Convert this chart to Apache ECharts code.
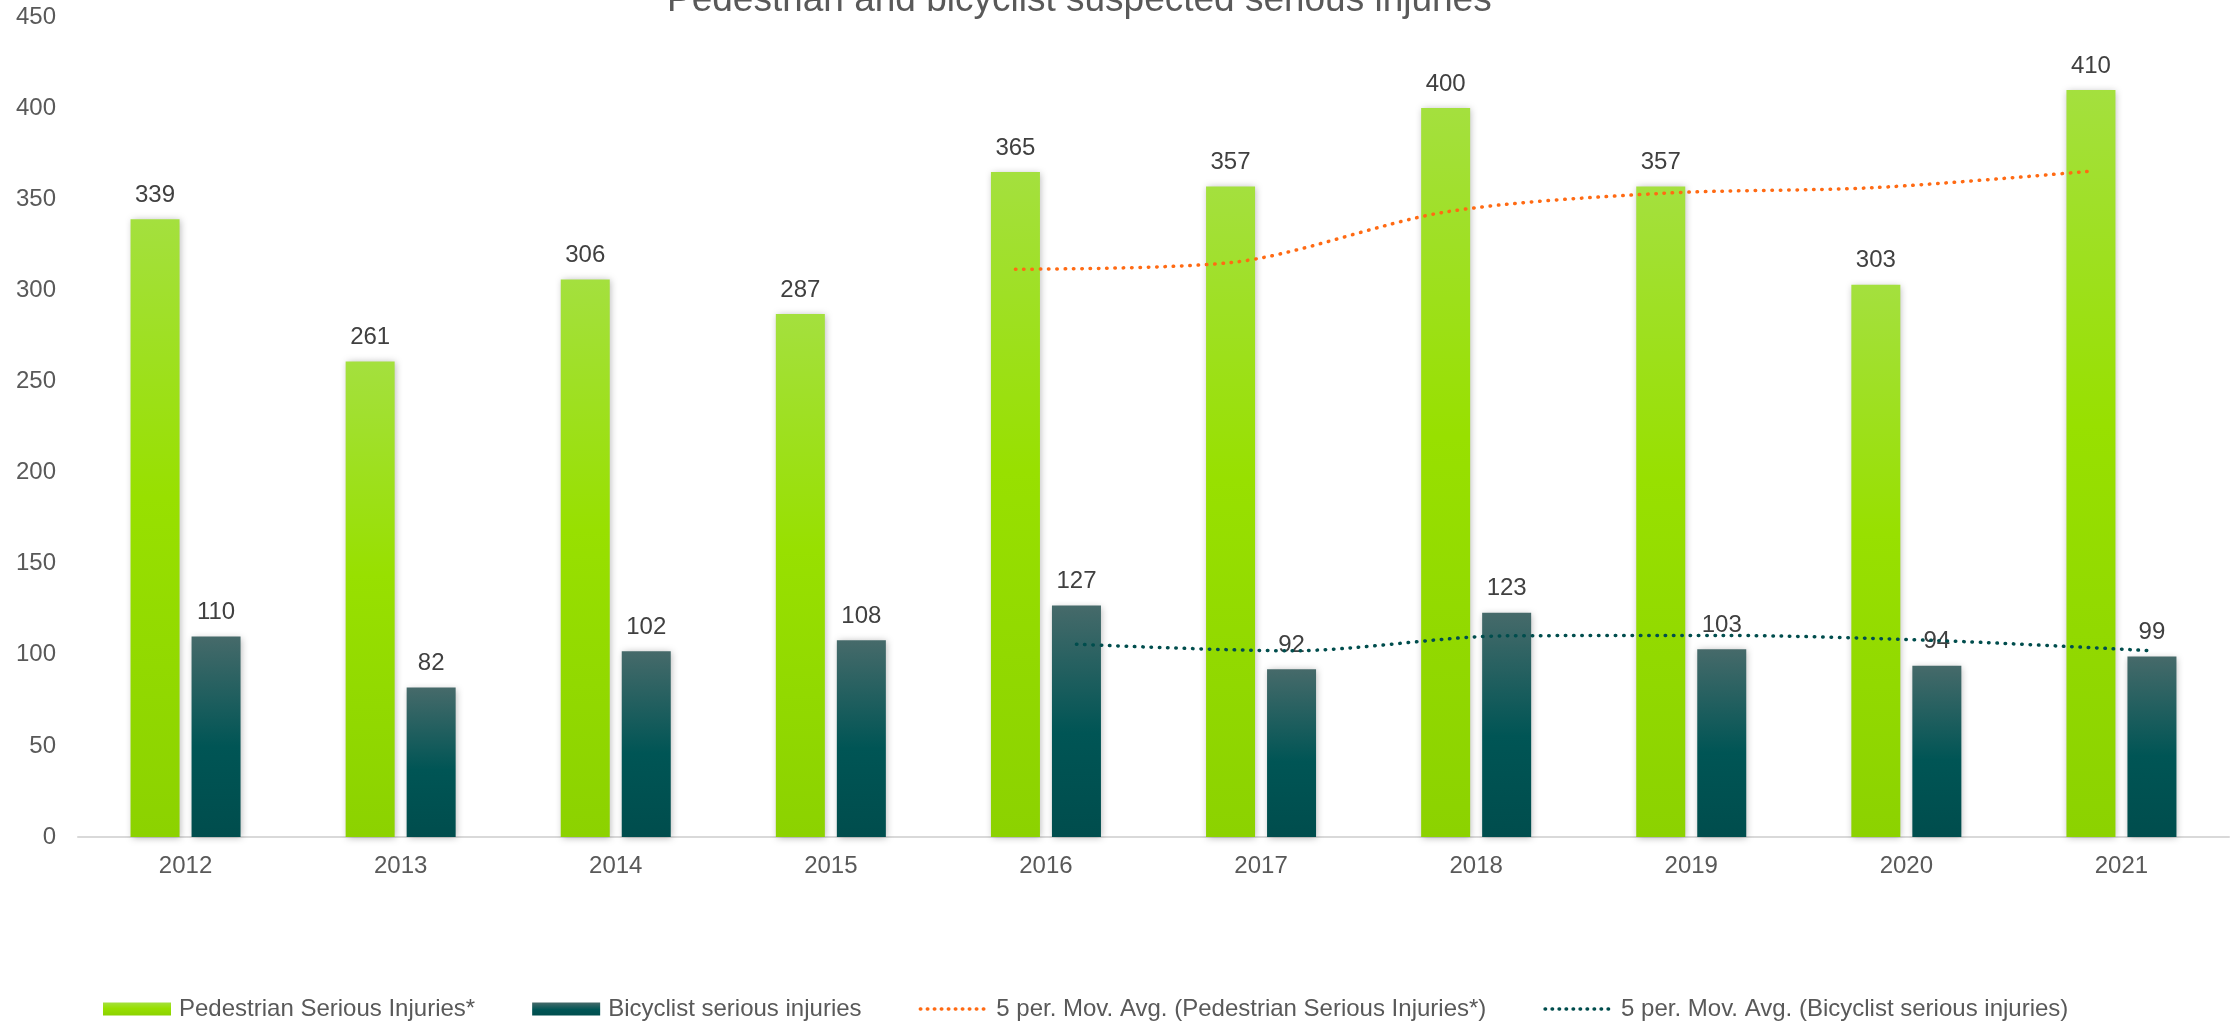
<!DOCTYPE html>
<html>
<head>
<meta charset="utf-8">
<title>Pedestrian and bicyclist suspected serious injuries</title>
<script src="https://cdn.jsdelivr.net/npm/echarts@6/dist/echarts.min.js"></script>
<style>
  html, body { margin: 0; padding: 0; background: #ffffff; }
  #chart { width: 2234px; height: 1021px; }
</style>
</head>
<body>
<div id="chart"></div>
<script>
// Yearly counts of suspected serious injuries
const years = ['2012', '2013', '2014', '2015', '2016', '2017', '2018', '2019', '2020', '2021'];
const pedestrian = [339, 261, 306, 287, 365, 357, 400, 357, 303, 410];
const bicyclist = [110, 82, 102, 108, 127, 92, 123, 103, 94, 99];

// 5-period moving averages (first value available for 2016)
const pedestrianMovAvg = [null, null, null, null, 311.6, 315.2, 343, 353.2, 356.4, 365.4];
const bicyclistMovAvg = [null, null, null, null, 105.8, 102.2, 110.4, 110.6, 107.8, 102.2];

const yTicks = { min: 0, max: 450, step: 50 };

const seriesNames = [
  'Pedestrian Serious Injuries*',
  'Bicyclist serious injuries',
  '5 per. Mov. Avg. (Pedestrian Serious Injuries*)',
  '5 per. Mov. Avg. (Bicyclist serious injuries)'
];

// layout
const W = 2234;
const gridLeft = 78, gridRight = 5, gridTop = 17, gridBottom = 184;
const barWidth = 49, barGapPx = 12;
const catWidth = (W - gridLeft - gridRight) / years.length;
// trend lines sit on the centre of their own bar within each cluster
const barShift = (barWidth + barGapPx) / 2 / catWidth;

function trendPoints(values, shift) {
  return values.map((v, i) => (v == null ? null : [i + shift, v])).filter(p => p);
}

const FONT = '"Liberation Sans", Arial, sans-serif';

const greenFill = new echarts.graphic.LinearGradient(0, 0, 0, 1, [
  { offset: 0, color: '#a4e03e' },
  { offset: 0.45, color: '#98e000' },
  { offset: 1, color: '#8cd200' }
]);
const tealFill = new echarts.graphic.LinearGradient(0, 0, 0, 1, [
  { offset: 0, color: '#466a6a' },
  { offset: 0.55, color: '#005555' },
  { offset: 1, color: '#004d4d' }
]);

const barShadow = {
  shadowBlur: 7,
  shadowColor: 'rgba(0,0,0,0.28)',
  shadowOffsetX: 1,
  shadowOffsetY: 1
};

const valueLabel = {
  show: true,
  position: 'top',
  distance: 12,
  fontFamily: FONT,
  fontSize: 24,
  color: '#404040'
};

const orange = '#ff6a13';
const teal = '#004d4d';
const dotted = { width: 3.5, type: [0.5, 7.8], cap: 'round' };

const chart = echarts.init(document.getElementById('chart'), null, { renderer: 'canvas' });

chart.setOption({
  backgroundColor: '#ffffff',
  animation: false,
  textStyle: { fontFamily: FONT },
  title: {
    text: 'Pedestrian and bicyclist suspected serious injuries',
    left: 662,
    top: -23,
    textStyle: { fontFamily: FONT, fontSize: 37, fontWeight: 'normal', color: '#595959' }
  },
  legend: {
    data: [
      { name: seriesNames[0], icon: 'rect' },
      { name: seriesNames[1], icon: 'rect' },
      { name: seriesNames[2], itemStyle: { opacity: 0 }, lineStyle: { color: orange, width: 3.5, type: [0.5, 6.5], cap: 'round' } },
      { name: seriesNames[3], itemStyle: { opacity: 0 }, lineStyle: { color: teal, width: 3.5, type: [0.5, 6.5], cap: 'round' } }
    ],
    left: 98,
    top: 992,
    itemWidth: 68,
    itemHeight: 13,
    itemGap: 57,
    textStyle: { fontFamily: FONT, fontSize: 24, color: '#595959', padding: [0, 0, 0, 3] }
  },
  grid: { left: gridLeft, right: gridRight, top: gridTop, bottom: gridBottom },
  xAxis: [
    {
      type: 'category',
      data: years,
      axisLine: { lineStyle: { color: '#d9d9d9', width: 2 } },
      axisTick: { show: false },
      axisLabel: { fontFamily: FONT, fontSize: 24, color: '#595959', margin: 17 }
    },
    {
      type: 'value',
      min: -0.5,
      max: years.length - 0.5,
      show: false
    }
  ],
  yAxis: {
    type: 'value',
    min: yTicks.min,
    max: yTicks.max,
    interval: yTicks.step,
    axisLine: { show: false },
    axisTick: { show: false },
    splitLine: { show: false },
    axisLabel: { fontFamily: FONT, fontSize: 24, color: '#595959', margin: 22 }
  },
  series: [
    {
      name: seriesNames[0],
      type: 'bar',
      xAxisIndex: 0,
      data: pedestrian,
      barWidth: barWidth,
      barGap: (barGapPx / barWidth * 100).toFixed(1) + '%',
      itemStyle: Object.assign({ color: greenFill }, barShadow),
      label: valueLabel,
      z: 2
    },
    {
      name: seriesNames[1],
      type: 'bar',
      xAxisIndex: 0,
      data: bicyclist,
      barWidth: barWidth,
      itemStyle: Object.assign({ color: tealFill }, barShadow),
      label: valueLabel,
      z: 2
    },
    {
      name: seriesNames[2],
      type: 'line',
      xAxisIndex: 1,
      data: trendPoints(pedestrianMovAvg, -barShift),
      smooth: 0.3,
      symbol: 'none',
      itemStyle: { color: orange },
      lineStyle: Object.assign({ color: orange }, dotted),
      z: 3
    },
    {
      name: seriesNames[3],
      type: 'line',
      xAxisIndex: 1,
      data: trendPoints(bicyclistMovAvg, barShift),
      smooth: 0.3,
      symbol: 'none',
      itemStyle: { color: teal },
      lineStyle: Object.assign({ color: teal }, dotted),
      z: 3
    }
  ]
});
</script>
</body>
</html>
